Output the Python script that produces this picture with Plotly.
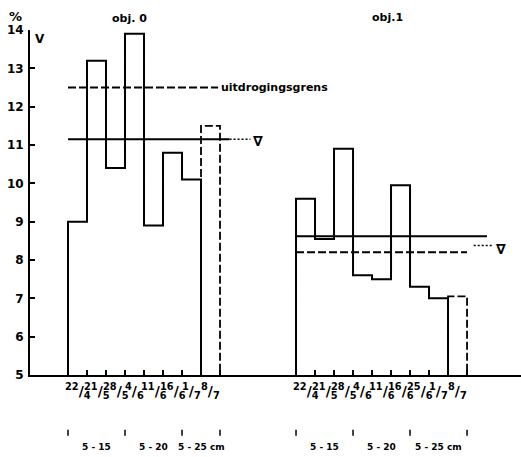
import plotly.graph_objects as go

# Moisture content (% of dry soil) per sampling date, two treatments
dates_obj0 = ["22/4", "21/5", "28/5", "4/6", "11/6", "16/6", "1/7", "8/7"]
moist_obj0 = [9.0, 13.2, 10.4, 13.9, 8.9, 10.8, 10.1, 11.5]
dates_obj1 = ["22/4", "21/5", "28/5", "4/6", "11/6", "16/6", "25/6", "1/7", "8/7"]
moist_obj1 = [9.6, 8.55, 10.9, 7.6, 7.5, 9.95, 7.3, 7.0, 7.05]

mean_obj0 = 11.15          # ∇ obj. 0
limit_obj0 = 12.5          # uitdrogingsgrens
mean_obj1 = 8.62           # ∇ obj. 1
limit_obj1 = 8.2

# sampling depth groups: (first interval, last interval, label)
depths_obj0 = [(0, 3, "5 - 15"), (3, 6, "5 - 20"), (6, 8, "5 - 25 cm")]
depths_obj1 = [(0, 3, "5 - 15"), (3, 6, "5 - 20"), (6, 9, "5 - 25 cm")]

y_ticks = list(range(5, 15))
offset_obj1 = 12           # horizontal start of the obj. 1 block (in intervals)

FONT = "DejaVu Sans"
BLACK = "black"
DASH = "8px,3px"

fig = go.Figure()


def add_block(values, start):
    n = len(values)
    solid = values[:-1]
    # solid step outline for all but the last sample
    xs = [start] + [start + i for i in range(len(solid))] + [start + len(solid)] * 2
    ys = [5] + solid + [solid[-1], 5]
    fig.add_trace(go.Scatter(x=xs, y=ys, mode="lines", line_shape="hv",
                             line=dict(color=BLACK, width=2), hoverinfo="skip"))
    # last sample drawn as a dashed box
    a, b = start + n - 1, start + n
    fig.add_trace(go.Scatter(x=[a, a, b, b], y=[5, values[-1], values[-1], 5], mode="lines",
                             line=dict(color=BLACK, width=1.8, dash=DASH), hoverinfo="skip"))


def hline(x0, x1, y, dash=None, width=2):
    fig.add_trace(go.Scatter(x=[x0, x1], y=[y, y], mode="lines",
                             line=dict(color=BLACK, width=width, dash=dash), hoverinfo="skip"))


add_block(moist_obj0, 0)
add_block(moist_obj1, offset_obj1)

# reference levels
hline(0, 7.9, limit_obj0, dash=DASH)
hline(0, 8.5, mean_obj0)
hline(8.5, 9.6, mean_obj0, dash="2px,2px", width=1.5)
hline(offset_obj1, offset_obj1 + 10.05, mean_obj1)
hline(offset_obj1, offset_obj1 + 9, limit_obj1, dash=DASH)
hline(offset_obj1 + 9.35, offset_obj1 + 10.3, limit_obj1 + 0.18, dash="2px,2px", width=1.5)

ann = []


def text(x, y, s, size=12, xanchor="center", yanchor="middle", xref="x", yref="y", yshift=0):
    ann.append(dict(x=x, y=y, xref=xref, yref=yref, text=s, showarrow=False,
                    xanchor=xanchor, yanchor=yanchor, yshift=yshift,
                    font=dict(family=FONT, size=size, color=BLACK, weight="bold")))


text(7.95, limit_obj0, "uitdrogingsgrens", size=11, xanchor="left")
text(9.65, mean_obj0 - 0.05, "∇", size=14, xanchor="left")
text(offset_obj1 + 10.4, limit_obj1 + 0.1, "∇", size=14, xanchor="left")
text(3.25, 14.0, "obj. 0", size=11, yshift=12)
text(offset_obj1 + 4.8, 14.0, "obj.1", size=11, yshift=13)
text(-0.03, 1.0, "%", size=13, xref="paper", yref="paper", yshift=14)
text(-1.45, 14.0, "V", size=12, yshift=-9)

# date labels as small fractions under each interval
for dates, start in ((dates_obj0, 0), (dates_obj1, offset_obj1)):
    for i, d in enumerate(dates):
        num, den = d.split("/")
        ann.append(dict(x=start + i + 0.5, y=0, xref="x", yref="paper", showarrow=False,
                        text=f"<sup>{num}</sup>/<sub>{den}</sub>", xanchor="center",
                        yanchor="top", yshift=-4,
                        font=dict(family=FONT, size=14, color=BLACK, weight="bold")))

# depth groups: boundary marks and labels
shapes = []
for groups, start in ((depths_obj0, 0), (depths_obj1, offset_obj1)):
    bounds = sorted({g[0] for g in groups} | {g[1] for g in groups})
    for bnd in bounds:
        shapes.append(dict(type="line", xref="x", yref="paper", x0=start + bnd, x1=start + bnd,
                           y0=-0.159, y1=-0.176, line=dict(color=BLACK, width=1.5)))
    for g0, g1, lab in groups:
        ann.append(dict(x=start + (g0 + g1) / 2, y=-0.209, xref="x", yref="paper",
                        showarrow=False, text=lab, xanchor="center", yanchor="middle",
                        font=dict(family=FONT, size=9, color=BLACK, weight="bold")))

edges = list(range(0, len(dates_obj0) + 1)) + \
    [offset_obj1 + i for i in range(0, len(dates_obj1) + 1)]

fig.update_layout(
    width=521, height=457,
    margin=dict(l=30, r=0, t=30, b=82),
    paper_bgcolor="white", plot_bgcolor="white",
    showlegend=False,
    annotations=ann, shapes=shapes,
    xaxis=dict(range=[-2.0, 23.84], showgrid=False, zeroline=False,
               showline=True, linecolor=BLACK, linewidth=2,
               ticks="inside", ticklen=5, tickwidth=1.5, tickcolor=BLACK,
               tickvals=edges, showticklabels=False),
    yaxis=dict(range=[5, 14], showgrid=False, zeroline=False,
               showline=True, linecolor=BLACK, linewidth=2,
               ticks="inside", ticklen=5, tickwidth=1.5, tickcolor=BLACK,
               tickvals=y_ticks, ticktext=[str(v) for v in y_ticks],
               tickfont=dict(family=FONT, size=12, color=BLACK, weight="bold"),
               ticklabelstandoff=2),
)

fig.write_html("out.html")
